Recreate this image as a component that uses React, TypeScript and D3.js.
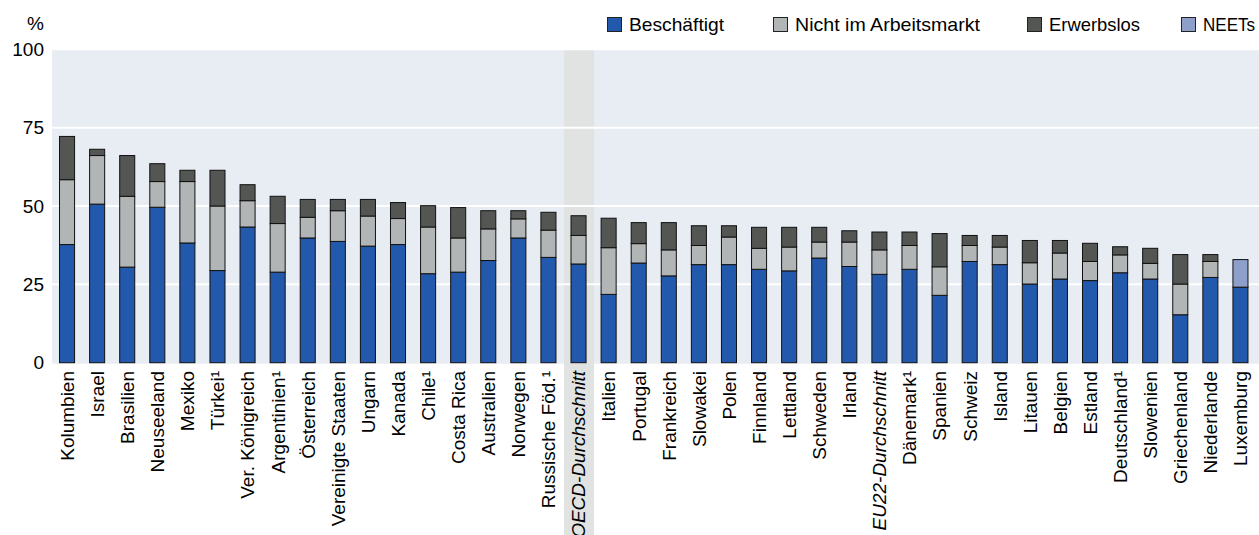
import React from "react";
import * as d3 from "d3";

const categories = [
  "Kolumbien", "Israel", "Brasilien", "Neuseeland", "Mexiko", "Türkei¹", "Ver. Königreich", "Argentinien¹",
  "Österreich", "Vereinigte Staaten", "Ungarn", "Kanada", "Chile¹", "Costa Rica", "Australien", "Norwegen",
  "Russische Föd.¹", "OECD-Durchschnitt", "Italien", "Portugal", "Frankreich", "Slowakei", "Polen", "Finnland",
  "Lettland", "Schweden", "Irland", "EU22-Durchschnitt", "Dänemark¹", "Spanien", "Schweiz", "Island",
  "Litauen", "Belgien", "Estland", "Deutschland¹", "Slowenien", "Griechenland", "Niederlande", "Luxemburg",
];

const beschaeftigt = [
  37.7, 50.6, 30.5, 49.6, 38.2, 29.4, 43.3, 28.9,
  39.8, 38.7, 37.2, 37.7, 28.4, 28.9, 32.6, 39.8,
  33.6, 31.5, 21.8, 31.8, 27.7, 31.3, 31.3, 29.8,
  29.3, 33.4, 30.7, 28.2, 29.8, 21.5, 32.3, 31.3,
  25.1, 26.7, 26.2, 28.7, 26.7, 15.3, 27.2, 24.1,
];
const nichtImArbeitsmarkt = [
  20.7, 15.5, 22.6, 8.2, 19.6, 20.6, 8.4, 15.5,
  6.6, 9.8, 9.6, 8.3, 14.9, 10.9, 10.1, 6.1,
  8.7, 9.1, 14.9, 6.2, 8.3, 6.1, 8.8, 6.7,
  7.6, 5.1, 7.8, 7.8, 7.6, 9.1, 5.1, 5.6,
  6.8, 8.3, 6.1, 5.7, 5.0, 9.8, 5.1, 0,
];
const erwerbslos = [
  13.8, 2.0, 13.0, 5.7, 3.6, 11.4, 5.1, 8.7,
  5.7, 3.6, 5.3, 5.1, 6.8, 9.7, 5.8, 2.6,
  5.7, 6.3, 9.4, 6.7, 8.7, 6.3, 3.6, 6.7,
  6.3, 4.7, 3.6, 5.7, 4.3, 10.6, 3.2, 3.7,
  7.1, 4.0, 5.8, 2.6, 4.8, 9.4, 2.2, 0,
];
const neets = [
  0, 0, 0, 0, 0, 0, 0, 0,
  0, 0, 0, 0, 0, 0, 0, 0,
  0, 0, 0, 0, 0, 0, 0, 0,
  0, 0, 0, 0, 0, 0, 0, 0,
  0, 0, 0, 0, 0, 0, 0, 8.8,
];

const seriesKeys = ["Beschäftigt", "Nicht im Arbeitsmarkt", "Erwerbslos", "NEETs"];
const seriesColors = ["#2359ac", "#b2b5b6", "#545654", "#8e9fcb"];
const yTicks = [0, 25, 50, 75, 100];
const highlighted = ["OECD-Durchschnitt"];
const italicLabels = ["OECD-Durchschnitt", "EU22-Durchschnitt"];
const legendX = [607, 773, 1027, 1181];
const legendTextWidth = [95, 185, 91, 52];

const W = 1259;
const H = 535;
const FONT = "'Liberation Sans', Arial, sans-serif";

export default function App() {
  const plotLeft = 52;
  const plotRight = 1255.5;
  const bgRight = 1259;
  const y0 = 362.7;
  const y100 = 49.3;

  const x = d3.scaleBand<string>().domain(categories).range([plotLeft, plotRight]).paddingInner(0.5).paddingOuter(0.25);
  const y = d3.scaleLinear().domain([0, 100]).range([y0, y100]);

  const rows = categories.map((c, i) => ({
    cat: c,
    "Beschäftigt": beschaeftigt[i],
    "Nicht im Arbeitsmarkt": nichtImArbeitsmarkt[i],
    "Erwerbslos": erwerbslos[i],
    "NEETs": neets[i],
  }));
  const stacked = d3.stack<any>().keys(seriesKeys)(rows);

  const step = x.step();
  const bw = x.bandwidth();

  return (
    <svg width={W} height={H} style={{ position: "absolute", left: 0, top: 0, background: "#fff" }} fontFamily={FONT}>
      <rect x={plotLeft} y={y100} width={bgRight - plotLeft} height={y0 - y100 + 1} fill="#e8ecf3" />
      {highlighted.map((c) => (
        <rect key={c} x={x(c)! + bw / 2 - step / 2 + 0.5} y={y100} width={step} height={H - y100} fill="#e1e3e3" />
      ))}
      {yTicks.filter((t) => t > 0).map((t) => (
        <line key={t} x1={plotLeft} x2={bgRight} y1={y(t)} y2={y(t)} stroke="#ffffff" strokeWidth={2} />
      ))}
      {yTicks.map((t) => (
        <text key={t} x={44} y={y(t)} dy="0.35em" textAnchor="end" fontSize={19} fill="#000">
          {t}
        </text>
      ))}
      <text x={44} y={30} textAnchor="end" fontSize={19} fill="#000">%</text>

      {stacked.map((s, si) => (
        <g key={s.key} fill={seriesColors[si]}>
          {s.map((d, i) => {
            const h = y(d[0]) - y(d[1]);
            if (h <= 0) return null;
            return (
              <rect
                key={i}
                x={x(categories[i])!}
                y={y(d[1])}
                width={bw}
                height={h}
                stroke="#111"
                strokeWidth={1}
              />
            );
          })}
        </g>
      ))}

      {categories.map((c) => (
        <text
          key={c}
          transform={`translate(${x(c)! + bw / 2},371) rotate(-90)`}
          dy="0.36em"
          textAnchor="end"
          fontSize={19}
          fontStyle={italicLabels.includes(c) ? "italic" : "normal"}
          fill="#000"
        >
          {c}
        </text>
      ))}

      {seriesKeys.map((k, i) => (
        <g key={k} transform={`translate(${legendX[i]},17)`}>
          <rect x={0.5} y={0.5} width={14} height={14} fill={seriesColors[i]} stroke="#222" strokeWidth={1} />
          <text
            x={22}
            y={7.5}
            dy="0.36em"
            fontSize={19}
            fill="#000"
            textLength={legendTextWidth[i]}
            lengthAdjust="spacingAndGlyphs"
          >
            {k}
          </text>
        </g>
      ))}
    </svg>
  );
}
